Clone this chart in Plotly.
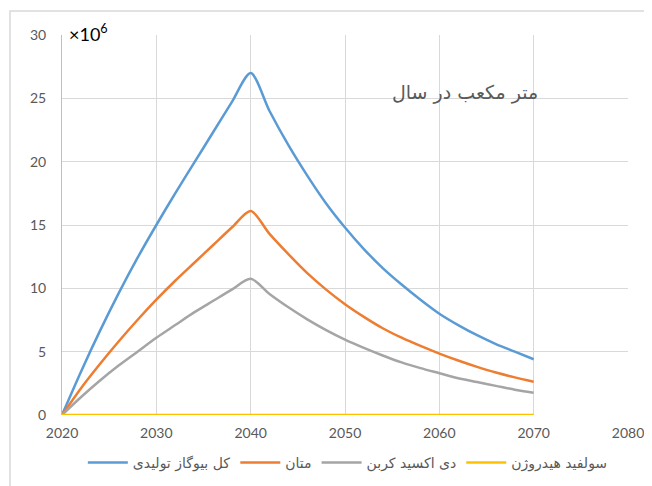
import plotly.graph_objects as go

years = [2020, 2022, 2024, 2026, 2028, 2030, 2032, 2034, 2036, 2038, 2040,
         2042, 2044, 2046, 2048, 2050, 2052, 2054, 2056, 2058, 2060,
         2062, 2064, 2066, 2068, 2070]

total_biogas = [0, 3.4, 6.6, 9.6, 12.4, 15.0, 17.5, 19.9, 22.3, 24.7, 27.0,
                24.0, 21.3, 18.9, 16.7, 14.8, 13.1, 11.6, 10.3, 9.1, 8.0,
                7.1, 6.3, 5.6, 5.0, 4.4]
methane = [0, 2.1, 4.0, 5.8, 7.5, 9.1, 10.6, 12.0, 13.4, 14.8, 16.1,
           14.3, 12.7, 11.2, 9.9, 8.75, 7.75, 6.85, 6.1, 5.45, 4.85,
           4.3, 3.8, 3.35, 2.97, 2.63]
co2 = [0, 1.4, 2.7, 3.9, 5.0, 6.1, 7.1, 8.1, 9.0, 9.9, 10.75,
       9.55, 8.5, 7.55, 6.7, 5.95, 5.3, 4.7, 4.15, 3.7, 3.3,
       2.9, 2.6, 2.3, 2.0, 1.76]
h2s = [0] * len(years)

names = ["کل بیوگاز تولیدی", "متان", "دی اکسید کربن", "سولفید هیدروژن"]
series = [total_biogas, methane, co2, h2s]
colors = ["#5B9BD5", "#ED7D31", "#A5A5A5", "#FFC000"]

x_ticks = [2020, 2030, 2040, 2050, 2060, 2070, 2080]
y_ticks = [0, 5, 10, 15, 20, 25, 30]

fig = go.Figure()
for name, vals, col in zip(names, series, colors):
    fig.add_trace(go.Scatter(
        x=years, y=vals, name=name, mode="lines",
        line=dict(color=col, width=2.5, shape="spline", smoothing=0.8),
    ))

font_fam = "Lato, 'Open Sans', 'DejaVu Sans', sans-serif"

# page body has an 8px margin, so the figure is 8px smaller than the window
fig.update_layout(
    width=644, height=478,
    margin=dict(l=54, r=24, t=27, b=71, autoexpand=False),
    paper_bgcolor="white", plot_bgcolor="white",
    font=dict(family=font_fam, color="#595959", size=13),
    showlegend=True,
    legend=dict(orientation="h", x=0.505, xanchor="center", y=-0.126,
                yanchor="middle", font=dict(size=14, color="#595959",
                family="'DejaVu Sans', sans-serif"),
                itemwidth=40, tracegroupgap=0),
    xaxis=dict(range=[2020, 2080], tickvals=x_ticks, showgrid=True,
               gridcolor="#D9D9D9", gridwidth=1, zeroline=False,
               showline=False, ticks="", ticklabelstandoff=8,
               automargin=False,
               tickfont=dict(size=14, color="#595959")),
    yaxis=dict(range=[0, 30], tickvals=y_ticks, showgrid=True,
               gridcolor="#D9D9D9", gridwidth=1, zeroline=False,
               showline=True, linecolor="#BFBFBF", linewidth=1,
               ticks="", ticklabelstandoff=12, automargin=False,
               tickfont=dict(size=14, color="#595959")),
    shapes=[dict(type="rect", xref="paper", yref="paper",
                 x0=-0.0919, x1=1.2, y0=-0.3, y1=1.063,
                 line=dict(color="#D9D9D9", width=1.5), layer="below")],
    annotations=[
        dict(text="×10<sup>6</sup>", xref="paper", yref="paper",
             x=0.009, y=1.005, xanchor="left", yanchor="middle",
             showarrow=False, font=dict(size=18, color="#000000",
                                        family=font_fam)),
        dict(text="متر مکعب در سال", xref="paper", yref="paper",
             x=0.712, y=0.85, xanchor="center", yanchor="middle",
             showarrow=False, font=dict(size=19, color="#595959",
                                        family="'DejaVu Sans', sans-serif")),
    ],
)

fig.write_html("out.html")
